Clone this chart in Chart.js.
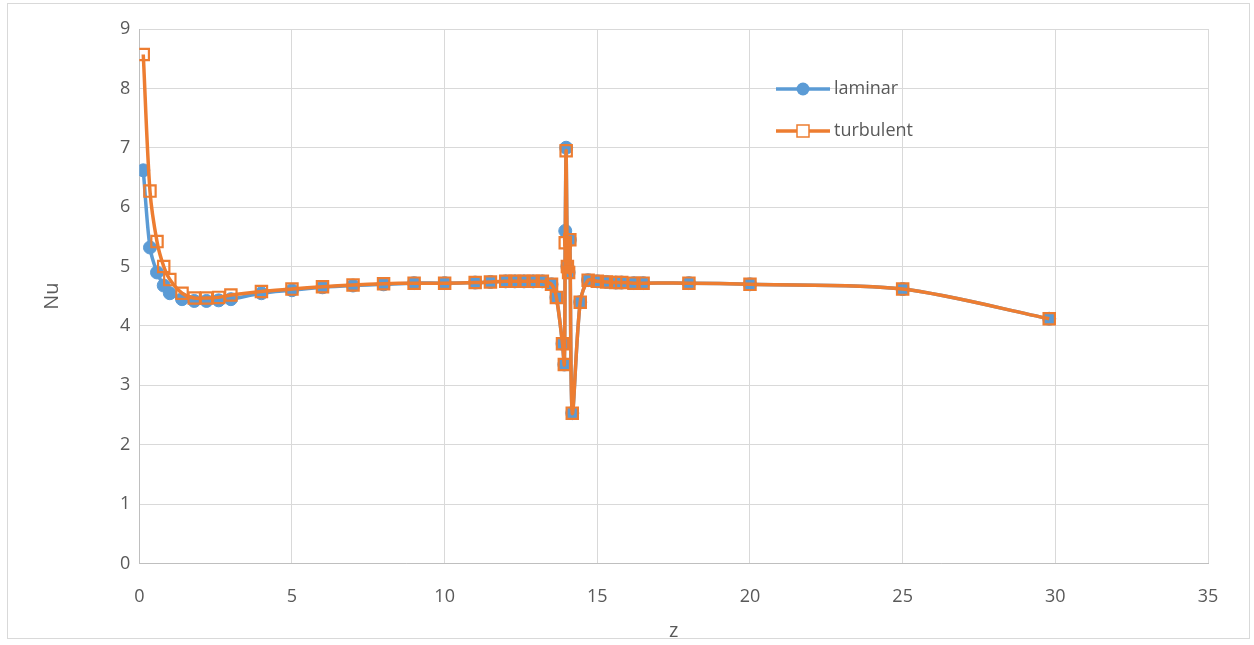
<!DOCTYPE html>
<html>
<head>
<meta charset="utf-8">
<script src="https://cdn.jsdelivr.net/npm/chart.js@4.4.0/dist/chart.umd.min.js"></script>
<style>
  body { margin: 0; background: #fff; }
  #frame {
    position: absolute; left: 7px; top: 3px; width: 1243px; height: 636px;
    border: 1px solid #d9d9d9; box-sizing: border-box;
  }
  #wrap { position: absolute; left: 0; top: 0; width: 1254px; height: 645px; }
</style>
</head>
<body>
<div id="frame"></div>
<div id="wrap"><canvas id="nuChart" width="1254" height="645"></canvas></div>
<script>
// axial position z
const zLaminar = [0.13, 0.35, 0.58, 0.8, 1.0, 1.4, 1.8, 2.2, 2.6, 3, 4, 5, 6, 7, 8, 9, 10, 11, 11.5, 12, 12.3, 12.6, 12.9, 13.2, 13.5, 13.66, 13.86, 13.92, 13.95, 13.98, 14.02, 14.06, 14.1, 14.18, 14.44, 14.7, 15, 15.3, 15.6, 15.8, 16.2, 16.5, 18, 20, 25, 29.8];
const nuLaminar = [6.62, 5.32, 4.9, 4.68, 4.55, 4.45, 4.42, 4.42, 4.43, 4.45, 4.55, 4.6, 4.65, 4.68, 4.7, 4.72, 4.72, 4.73, 4.74, 4.75, 4.75, 4.75, 4.75, 4.75, 4.7, 4.48, 3.7, 3.35, 5.6, 7.0, 5.0, 4.9, 5.45, 2.53, 4.4, 4.77, 4.75, 4.74, 4.73, 4.73, 4.72, 4.72, 4.72, 4.7, 4.62, 4.12];

const zTurbulent = [0.13, 0.35, 0.58, 0.8, 1.0, 1.4, 1.8, 2.2, 2.6, 3, 4, 5, 6, 7, 8, 9, 10, 11, 11.5, 12, 12.3, 12.6, 12.9, 13.2, 13.5, 13.66, 13.86, 13.92, 13.95, 13.98, 14.02, 14.06, 14.1, 14.18, 14.44, 14.7, 15, 15.3, 15.6, 15.8, 16.2, 16.5, 18, 20, 25, 29.8];
const nuTurbulent = [8.57, 6.27, 5.42, 5.0, 4.78, 4.55, 4.47, 4.47, 4.48, 4.52, 4.58, 4.62, 4.66, 4.69, 4.71, 4.72, 4.72, 4.73, 4.74, 4.75, 4.75, 4.75, 4.75, 4.75, 4.7, 4.48, 3.7, 3.35, 5.4, 6.95, 5.0, 4.9, 5.45, 2.53, 4.4, 4.77, 4.75, 4.74, 4.73, 4.73, 4.72, 4.72, 4.72, 4.7, 4.62, 4.12];

const seriesNames = ["laminar", "turbulent"];
const xTicks = [0, 5, 10, 15, 20, 25, 30, 35];
const yTicks = [0, 1, 2, 3, 4, 5, 6, 7, 8, 9];

const blue = "#5b9bd5";
const orange = "#ed7d31";
const fontFamily = "'Open Sans', 'Liberation Sans', sans-serif";

function toPoints(xs, ys) {
  return xs.map((x, i) => ({ x: x, y: ys[i] }));
}

// legend drawn inside the plot, like the Excel original
const innerLegend = {
  id: "innerLegend",
  afterDraw(chart) {
    const ctx = chart.ctx;
    const items = [
      { label: seriesNames[0], color: blue, style: "circle", y: 89 },
      { label: seriesNames[1], color: orange, style: "rect", y: 131 },
    ];
    ctx.save();
    items.forEach((it) => {
      ctx.strokeStyle = it.color;
      ctx.lineWidth = 3.5;
      ctx.beginPath();
      ctx.moveTo(776, it.y);
      ctx.lineTo(830, it.y);
      ctx.stroke();
      if (it.style === "circle") {
        ctx.fillStyle = it.color;
        ctx.beginPath();
        ctx.arc(803, it.y, 6.5, 0, Math.PI * 2);
        ctx.fill();
      } else {
        ctx.fillStyle = "#fff";
        ctx.lineWidth = 1.5;
        ctx.fillRect(797, it.y - 6, 12, 12);
        ctx.strokeRect(797, it.y - 6, 12, 12);
      }
      ctx.fillStyle = "#595959";
      ctx.font = "18px " + fontFamily;
      ctx.textBaseline = "middle";
      ctx.fillText(it.label, 834, it.y);
    });
    ctx.restore();
  },
};

const ctx = document.getElementById("nuChart").getContext("2d");

new Chart(ctx, {
  type: "scatter",
  data: {
    datasets: [
      {
        label: seriesNames[0],
        data: toPoints(zLaminar, nuLaminar),
        showLine: true,
        borderColor: blue,
        backgroundColor: blue,
        borderWidth: 3.5,
        pointStyle: "circle",
        pointRadius: 6.5,
        pointBorderWidth: 1,
        tension: 0.3,
        order: 2,
      },
      {
        label: seriesNames[1],
        data: toPoints(zTurbulent, nuTurbulent),
        showLine: true,
        borderColor: orange,
        backgroundColor: "rgba(0,0,0,0)",
        borderWidth: 3.5,
        pointStyle: "rect",
        pointRadius: 8,
        pointBorderWidth: 2.2,
        tension: 0.3,
        order: 1,
      },
    ],
  },
  options: {
    responsive: false,
    animation: false,
    layout: { padding: { left: 40, right: 46, top: 29, bottom: 2 } },
    plugins: {
      legend: { display: false },
      tooltip: { enabled: false },
    },
    scales: {
      x: {
        type: "linear",
        min: 0,
        max: 35,
        afterBuildTicks: (axis) => {
          axis.ticks = xTicks.map((v) => ({ value: v }));
        },
        grid: { color: "#d9d9d9", drawTicks: false },
        border: { color: "#bfbfbf" },
        ticks: {
          color: "#595959",
          font: { size: 18, family: fontFamily },
          padding: 23,
        },
        title: {
          display: true,
          text: "z",
          color: "#595959",
          font: { size: 20, family: fontFamily },
          padding: { top: -12, bottom: 0 },
        },
      },
      y: {
        min: 0,
        max: 9,
        afterBuildTicks: (axis) => {
          axis.ticks = yTicks.map((v) => ({ value: v }));
        },
        grid: { color: "#d9d9d9", drawTicks: false },
        border: { color: "#bfbfbf" },
        ticks: {
          color: "#595959",
          font: { size: 18, family: fontFamily },
          padding: 9,
        },
        title: {
          display: true,
          text: "Nu",
          color: "#595959",
          font: { size: 20, family: fontFamily },
          padding: { top: 0, bottom: 47 },
        },
      },
    },
  },
  plugins: [innerLegend],
});
</script>
</body>
</html>
